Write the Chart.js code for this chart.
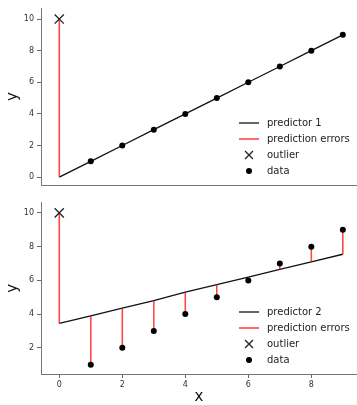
<!DOCTYPE html>
<html>
<head>
<title>Predictors and prediction errors</title>
<script src="https://cdn.jsdelivr.net/npm/chart.js"></script>
<style>
    body { margin: 0; background: #fff; }
    canvas { position: absolute; left: 0; }
    #topChart { top: 0; }
    #bottomChart { top: 195px; }
</style>
</head>
<body>
<canvas id="topChart" width="357" height="195"></canvas>
<canvas id="bottomChart" width="357" height="210"></canvas>

<script>
// values
var xAll = [0, 1, 2, 3, 4, 5, 6, 7, 8, 9];
var yAll = [10, 1, 2, 3, 4, 5, 6, 7, 8, 9];   // index 0 is the outlier
var pred1 = [0, 1, 2, 3, 4, 5, 6, 7, 8, 9];
var pred2 = [3.45, 3.9, 4.35, 4.8, 5.3, 5.75, 6.2, 6.65, 7.1, 7.55];
var xTicks = [0, 2, 4, 6, 8];
var yTicksTop = [0, 2, 4, 6, 8, 10];
var yTicksBottom = [2, 4, 6, 8, 10];

var FONT = "'DejaVu Sans', sans-serif";
var RED = 'rgba(255, 0, 0, 0.72)';

function pts(xs, ys) {
    return xs.map(function (x, i) { return { x: x, y: ys[i] }; });
}

function errorPts(pred) {
    var out = [];
    xAll.forEach(function (x, i) {
        out.push({ x: x, y: yAll[i] }, { x: x, y: pred[i] }, { x: x, y: null });
    });
    return out;
}

// legend in the lower right corner of the plot area
var cornerLegend = {
    id: 'cornerLegend',
    afterDraw: function (chart) {
        var ctx = chart.ctx, a = chart.chartArea;
        ctx.save();
        ctx.font = '10px ' + FONT;
        ctx.textBaseline = 'middle';
        chart.data.datasets.forEach(function (ds, i) {
            var y = a.bottom - 62 + i * 16;
            var x0 = a.right - 118, x1 = a.right - 98, cx = (x0 + x1) / 2;
            if (ds.showLine) {
                ctx.strokeStyle = ds.borderColor;
                ctx.lineWidth = ds.borderWidth;
                ctx.beginPath(); ctx.moveTo(x0, y); ctx.lineTo(x1, y); ctx.stroke();
            } else if (ds.pointStyle === 'crossRot') {
                var r = 4;
                ctx.strokeStyle = ds.pointBorderColor;
                ctx.lineWidth = ds.pointBorderWidth;
                ctx.beginPath();
                ctx.moveTo(cx - r, y - r); ctx.lineTo(cx + r, y + r);
                ctx.moveTo(cx - r, y + r); ctx.lineTo(cx + r, y - r);
                ctx.stroke();
            } else {
                ctx.fillStyle = ds.pointBackgroundColor;
                ctx.beginPath(); ctx.arc(cx, y, 3, 0, Math.PI * 2); ctx.fill();
            }
            ctx.fillStyle = '#222';
            ctx.fillText(ds.label, a.right - 90, y);
        });
        ctx.restore();
    }
};

function makeChart(id, predLabel, pred, yMin, yMax, yTicks, showX, padTop, xAxisHeight) {
    return new Chart(document.getElementById(id).getContext('2d'), {
        type: 'scatter',
        data: {
            datasets: [
                {
                    label: predLabel,
                    data: pts(xAll, pred),
                    showLine: true,
                    borderColor: '#111',
                    borderWidth: 1.3,
                    pointRadius: 0,
                    order: 3
                },
                {
                    label: 'prediction errors',
                    data: errorPts(pred),
                    showLine: true,
                    spanGaps: false,
                    borderColor: RED,
                    borderWidth: 1.6,
                    pointRadius: 0,
                    order: 2
                },
                {
                    label: 'outlier',
                    data: pts([xAll[0]], [yAll[0]]),
                    pointStyle: 'crossRot',
                    pointRadius: 6.5,
                    pointBorderColor: '#222',
                    pointBorderWidth: 1.3,
                    order: 1
                },
                {
                    label: 'data',
                    data: pts(xAll.slice(1), yAll.slice(1)),
                    pointStyle: 'circle',
                    pointRadius: 3,
                    pointBackgroundColor: '#000',
                    pointBorderColor: '#000',
                    pointBorderWidth: 0,
                    order: 0
                }
            ]
        },
        options: {
            responsive: false,
            animation: false,
            layout: { autoPadding: false, padding: { top: padTop, left: 0, right: 0, bottom: 0 } },
            plugins: { legend: { display: false }, tooltip: { enabled: false } },
            scales: {
                x: {
                    type: 'linear',
                    min: -0.58,
                    max: 9.45,
                    afterBuildTicks: function (s) { s.ticks = xTicks.map(function (v) { return { value: v }; }); },
                    afterFit: function (s) { s.height = xAxisHeight; },
                    grid: { drawOnChartArea: false, drawTicks: showX, tickLength: 4, color: '#666' },
                    border: { display: true, color: '#777', width: 1 },
                    ticks: { display: showX, padding: 2, color: '#333', font: { family: FONT, size: 8 } },
                    title: {
                        display: showX, text: 'x', color: '#111',
                        font: { family: FONT, size: 15, lineHeight: 1 },
                        padding: { top: 0, bottom: 0 }
                    }
                },
                y: {
                    type: 'linear',
                    min: yMin,
                    max: yMax,
                    afterBuildTicks: function (s) { s.ticks = yTicks.map(function (v) { return { value: v }; }); },
                    afterFit: function (s) { s.width = 41; },
                    grid: { drawOnChartArea: false, drawTicks: true, tickLength: 4, color: '#666' },
                    border: { display: true, color: '#777', width: 1 },
                    ticks: { padding: 3, color: '#333', font: { family: FONT, size: 8 } },
                    title: {
                        display: true, text: 'y', color: '#111',
                        font: { family: FONT, size: 15, lineHeight: 1.2 },
                        padding: { top: 4, bottom: 0 }
                    }
                }
            }
        },
        plugins: [cornerLegend]
    });
}

makeChart('topChart', 'predictor 1', pred1, -0.5, 10.7, yTicksTop, false, 8, 10);
makeChart('bottomChart', 'predictor 2', pred2, 0.45, 10.6, yTicksBottom, true, 2, 31);
</script>
</body>
</html>
